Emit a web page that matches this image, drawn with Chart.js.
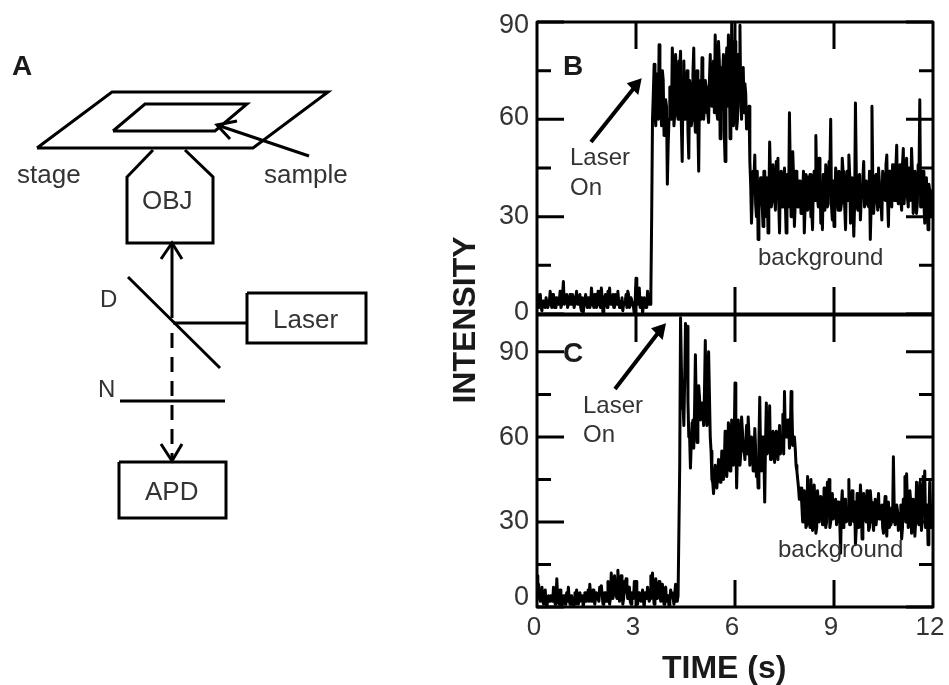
<!DOCTYPE html>
<html><head><meta charset="utf-8">
<script src="https://cdn.jsdelivr.net/npm/chart.js@4/dist/chart.umd.min.js"></script>
<style>
html,body{margin:0;padding:0;background:#fff;width:949px;height:685px;overflow:hidden}
canvas{position:absolute;filter:blur(0.55px)}
</style></head><body>
<canvas id="panelB" width="509" height="330" style="left:440px;top:0"></canvas>
<canvas id="panelC" width="509" height="385" style="left:440px;top:300px"></canvas>
<canvas id="diagram" width="949" height="685" style="left:0;top:0"></canvas>
<script>
const sampleSpacing = 0.025; // seconds between samples; main and in-between readings alternate
const intensityB = [
 6,2,6,1,4,2,5,3,7,2,6,2,5,3,7,3,10,4,6,3,6,3,5,2,7,3,6,1,0,4,3,5,2,8,3,6,2,7,3,8,0,5,3,7,8,3,6,2,5,7,2,4,1,3,6,7,2,5,3,0,11,3,8,2,0,5,2,7,3,6,
 60,77,58,72,83,64,75,55,66,40,60,66,82,58,80,62,78,81,47,78,60,75,48,70,60,82,56,75,44,72,79,60,72,62,59,80,64,78,86,62,84,54,76,80,47,82,86,54,90,58,84,57,80,89,60,76,71,57,62,47,
 28,44,49,30,23,38,42,27,44,30,25,53,33,46,36,47,48,25,44,34,45,25,42,62,30,50,27,44,33,41,31,37,25,43,32,42,30,26,44,55,36,48,28,26,40,46,33,47,60,29,27,45,35,44,32,48,37,26,44,49,28,42,24,65,33,42,29,40,47,34,38,33,23,64,31,42,36,45,33,29,42,35,49,27,44,33,46,35,52,34,46,32,51,34,48,33,44,51,31,44,31,46,66,33,44,28,42,26,38,30,34
];
const intensityBBetween = [
 3,5,2,4,3,5,2,4,3,6, 2,5,3,4,2,6,3,5,2,4, 3,6,2,5,3,4,2,5,3,6, 2,4,3,5,2,6,3,4,2,5, 3,6,2,4,3,5,2,6,3,4, 2,5,3,4,2,6,3,5,2,4, 3,6,2,5,3,4,2,5,3,
 30,
 68,62,74,60,70,58,72,56,64,52, 70,60,74,62,72,60,76,58,72,60, 70,56,72,58,74,62,72,58,70,60, 74,64,70,62,72,66,74,62,76,60, 78,62,74,56,76,64,78,60,80,62, 76,60,78,64,74,62,68,58,64,
 40,
 36,42,34,44,32,42,33,44,34,42, 33,43,35,41,32,44,34,42,33,41, 35,43,33,44,32,42,34,43,33,41, 35,44,33,42,34,43,32,41,35,42, 33,44,34,43,32,42,34,44,33,41, 35,43,32,42,34,44,33,41,35,43, 33,42,34,44,32,43,35,42,33,41, 34,44,33,42,35,43,32,41,34,44, 36,46,35,44,37,46,35,45,36,44, 35,46,34,44,36,45,35,44,33,42, 34,42,33,40,34,41,33,40,34,38
];
const intensityC = [
 11,8,2,7,1,6,0,4,2,3,7,1,10,2,6,0,4,1,5,7,1,4,0,5,6,1,5,3,0,5,2,6,8,2,6,1,5,3,7,7.5,1,5,2,9,1,12,3,11,4,13,2,11,1,9,10,3,7,1,4,9,9,1,5,2,6,0,5,7,2,11,12,1,10,3,9,2,8,1,7,4,0,6,5,1,8,2,4,
 102,70,64,100,99,60,49,65,56,89,58,78,66,72,64,94,64,90,60,45,40,50,42,52,44,55,45,62,46,65,48,66,50,79,42,66,50,67,55,52,64,67,50,60,48,63,46,42,74,48,60,37,72,55,71,52,62,51,62,52,64,58,68,76,60,66,56,76,57,60,50,45,38,42,
 30,41,28,46,30,45,27,43,26,41,30,39,29,42,28,44,45,30,40,33,38,31,36,19,41,30,38,31,45,29,41,30,22,40,28,43,24,40,31,41,27,41,30,27,38,29,40,31,36,26,39,25,37,29,35,53,29,36,27,33,24,38,46,47,28,41,26,38,25,44,30,44,27,46,48,30,22,44,28,36
];
const intensityCBetween = [
 5,3,4,2,5,1,3,2,4,2, 5,2,4,1,3,2,4,3,2,3, 4,2,3,1,4,2,3,4,2,5, 3,2,4,2,5,3,4,2,5,4, 3,5,2,6,3,7,5,8,3,8, 5,8,3,7,5,6,2,5,3,5, 2,5,3,4,2,5,3,5,3,6, 4,8,3,7,4,6,3,6,2,4, 2,4,3,5,2,4,
 50,
 85,72,80,90,72,60,58,66,70,72,70,74,72,68,76,70,78,75,55,
 44,46,47,46,50,47,52,50,54,52, 58,56,60,58,60,56,58,54,62,56, 58,54,60,56,58,52,56,50,58,54, 60,54,58,54,56,52,58,56,60,56, 58,54,56,54,60,62,66,60,70,60, 56,48,42,40,
 36,
 30,36,29,37,28,38,30,36,28,37, 30,36,29,38,30,36,28,37,31,36, 29,37,30,36,28,38,30,35,29,36, 31,37,28,36,30,38,29,35,30,36, 28,37,30,35,29,36,31,34,28,35, 30,36,28,34,30,35,29,34,31,36, 28,34,30,36,29,37,28,36,30,38, 29,37,30,38,28,36,30,35,29
];
const xTickValues = [0,3,6,9,12];
const yMajorValues = [0,30,60,90];
const yMinorValues = [15,45,75];
const xInnerTicks = [3,6,9];
const yTickLabels = ['0','30','60','90'];
// the tick numbers in the original sit slightly off their tick marks
const yLabelSlotsB = [0.5,30,60.5,89];
const yLabelSlotsC = [3.3,30,59.6,89.6];

const series = (main,between) => main.flatMap((v,i)=>{
  const a=[{x:i*2*sampleSpacing,y:v}];
  if(i<between.length) a.push({x:(i*2+1)*sampleSpacing,y:between[i]});
  return a;
});

const frame = {
  id:'frame',
  afterDatasetsDraw(c){
    const {ctx,chartArea:a,scales:{x,y}} = c;
    ctx.save();
    ctx.strokeStyle='#000';ctx.lineWidth=3;ctx.lineCap='butt';
    ctx.beginPath();
    const major=27,minor=14;
    yMajorValues.forEach(v=>{const p=y.getPixelForValue(v);
      ctx.moveTo(a.left,p);ctx.lineTo(a.left+major,p);ctx.moveTo(a.right,p);ctx.lineTo(a.right-major,p);});
    yMinorValues.forEach(v=>{const p=y.getPixelForValue(v);
      ctx.moveTo(a.left,p);ctx.lineTo(a.left+minor,p);ctx.moveTo(a.right,p);ctx.lineTo(a.right-minor,p);});
    xInnerTicks.forEach(v=>{const p=x.getPixelForValue(v);
      ctx.moveTo(p,a.top);ctx.lineTo(p,a.top+major);ctx.moveTo(p,a.bottom);ctx.lineTo(p,a.bottom-major);});
    ctx.stroke();
    ctx.lineJoin='round';
    ctx.strokeRect(a.left,a.top,a.right-a.left,a.bottom-a.top);
    ctx.restore();
  }
};
const noPad = s => {s.paddingTop=0;s.paddingBottom=0;s.paddingLeft=0;s.paddingRight=0;};

function panel(id,main,between,yMax,padding,showX,slots){
  return new Chart(document.getElementById(id),{
    type:'line',
    data:{datasets:[{data:series(main,between),borderColor:'#000',borderWidth:3,pointRadius:0,tension:0,borderJoinStyle:'round',fill:false}]},
    plugins:[frame],
    options:{
      responsive:false,maintainAspectRatio:false,animation:false,devicePixelRatio:1,parsing:false,normalized:true,
      layout:{padding},
      plugins:{legend:{display:false},tooltip:{enabled:false}},
      scales:{
        x:{type:'linear',min:0,max:12,display:showX,
          afterBuildTicks:s=>{s.ticks=xTickValues.map(v=>({value:v}));},
          afterFit:s=>{if(showX){s.height=78;}noPad(s);},
          grid:{display:false,drawTicks:false},border:{display:false},
          ticks:{color:'#333',font:{family:'Liberation Sans',size:26},padding:5,labelOffset:-3,maxRotation:0,autoSkip:false}
        },
        y:{type:'linear',min:0,max:yMax,
          afterBuildTicks:s=>{s.ticks=slots.map(v=>({value:v}));},
          afterFit:s=>{s.width=97;noPad(s);},
          grid:{display:false,drawTicks:false},border:{display:false},
          ticks:{color:'#333',font:{family:'Liberation Sans',size:27},padding:8,autoSkip:false,
            callback:v=>yTickLabels[slots.indexOf(v)]}
        }
      }
    }
  });
}
panel('panelB',intensityB,intensityBBetween,90,{top:22,right:16,bottom:16,left:0},false,yLabelSlotsB);
panel('panelC',intensityC,intensityCBetween,103,{top:15,right:16,bottom:0,left:0},true,yLabelSlotsC);

// Schematic (panel A) and annotations, expressed in the overlay's own axis units
const stagePlate=[[37,148],[112,92],[328,92],[253,148],[37,148]];
const sampleSlide=[[113,131],[145,104],[247,104],[215,131],[113,131]];
const samplePointer=[[309,156],[217,125]];
const samplePointerHead=[[237,121],[217,125],[230,139]];
const objective=[[153,150],[127,177],[127,243],[213,243],[213,177],[185,150]];
const excitationPath=[[172,318],[172,243]];
const excitationHead=[[161,259],[172,243],[182,259]];
const dichroic=[[128,277],[220,368]];
const laserBeam=[[173,323],[247,323]];
const laserBox=[[247,293],[366,293],[366,343],[247,343],[247,293]];
const notchFilter=[[120,401],[225,401]];
const detectionHead=[[161,444],[172,461],[182,444]];
const apdBox=[[119,462],[226,462],[226,518],[119,518],[119,462]];
const detectionPath=[[172,333],[172,458]];
const solidStrokes=[[stagePlate,3],[sampleSlide,3],[samplePointer,3],[samplePointerHead,3],[objective,3],[excitationPath,3],[excitationHead,3],[dichroic,3],[laserBeam,3],[laserBox,3],[notchFilter,3],[detectionHead,3],[apdBox,3]];
const dashedStrokes=[[detectionPath,3]];
const onArrows=[
 {line:[[591,142],[634,88]],head:[[641.7,78.3],[626.7,83.3],[638.3,95]]},
 {line:[[615,389],[658,333]],head:[[666,323.3],[651,328.3],[662.7,340]]}
];
const textLabels=[
 ['A',12,75,'bold 28px'],['stage',17,183,'26px'],['sample',264,183,'26px'],['OBJ',142,209,'26px'],
 ['D',100,307,'24px'],['N',98,397,'24px'],['Laser',273,328,'26px'],['APD',145,500,'26px'],
 ['B',563,75,'bold 28px'],['C',563,362,'bold 28px'],
 ['Laser',570,165,'24px'],['On',570,195,'24px'],['background',758,265,'24px'],
 ['Laser',583,413,'24px'],['On',583,442,'24px'],['background',778,557,'24px'],
 ['TIME (s)',662,678,'bold 32px']
];
const verticalTitle='INTENSITY';

const toPts=l=>l.map(([x,y])=>({x,y}));
const notes={
  id:'notes',
  afterDatasetsDraw(c){
    const {ctx,scales:{x,y}}=c;
    ctx.save();
    ctx.fillStyle='#000';
    onArrows.forEach(a=>{
      ctx.beginPath();
      a.head.forEach(([px,py],i)=>{const X=x.getPixelForValue(px),Y=y.getPixelForValue(py);i?ctx.lineTo(X,Y):ctx.moveTo(X,Y);});
      ctx.closePath();ctx.fill();
    });
    ctx.textBaseline='alphabetic';
    textLabels.forEach(([t,px,py,f])=>{
      ctx.font=f+' "Liberation Sans"';
      ctx.fillStyle=f.startsWith('bold')?'#1a1a1a':'#333';
      ctx.fillText(t,x.getPixelForValue(px),y.getPixelForValue(py));
    });
    ctx.font='bold 32px "Liberation Sans"';ctx.fillStyle='#1a1a1a';
    ctx.translate(x.getPixelForValue(466),y.getPixelForValue(320));
    ctx.rotate(-Math.PI/2);ctx.textAlign='center';ctx.textBaseline='middle';
    ctx.fillText(verticalTitle,0,0);
    ctx.restore();
  }
};
const mk=(pts,w,dash)=>({data:toPts(pts),showLine:true,pointRadius:0,borderColor:'#000',borderWidth:w,borderDash:dash||[],borderJoinStyle:'miter',borderCapStyle:'butt',tension:0,fill:false});
new Chart(document.getElementById('diagram'),{
  type:'scatter',
  data:{datasets:[
    ...solidStrokes.map(([p,w])=>mk(p,w)),
    ...dashedStrokes.map(([p,w])=>mk(p,w,[15,9])),
    ...onArrows.map(a=>mk(a.line,4))
  ]},
  plugins:[notes],
  options:{responsive:false,maintainAspectRatio:false,animation:false,devicePixelRatio:1,events:[],
    layout:{padding:0},
    plugins:{legend:{display:false},tooltip:{enabled:false}},
    scales:{
      x:{type:'linear',min:0,max:949,display:false},
      y:{type:'linear',min:0,max:685,reverse:true,display:false}
    }
  }
});
</script>
</body></html>
